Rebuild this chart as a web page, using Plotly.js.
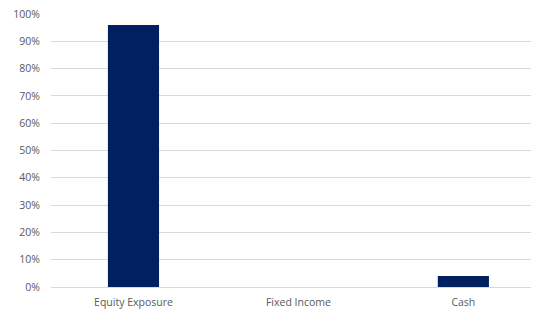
<!DOCTYPE html>
<html>
<head>
<meta charset="utf-8">
<script src="https://cdn.plot.ly/plotly-3.0.1.min.js"></script>
<style>html,body{margin:0;padding:0;background:#fff;}#chart{width:533px;height:313px;}</style>
</head>
<body>
<div id="chart"></div>
<script>
const categories = ["Equity Exposure", "Fixed Income", "Cash"];
const allocation = [0.96, 0.0, 0.04];
const yTickValues = [0, 0.1, 0.2, 0.3, 0.4, 0.5, 0.6, 0.7, 0.8, 0.9, 1.0];

const trace = {
  type: 'bar',
  x: categories,
  y: allocation,
  width: 0.31,
  marker: {color: '#002060'},
  hoverinfo: 'skip'
};

const layout = {
  width: 533,
  height: 313,
  margin: {l: 51, r: 2, t: 14, b: 26, pad: 0},
  paper_bgcolor: '#ffffff',
  plot_bgcolor: '#ffffff',
  showlegend: false,
  font: {family: 'Open Sans, Liberation Sans, Arial, sans-serif', size: 11, color: '#595959'},
  xaxis: {
    range: [-0.5, 2.41],
    showgrid: false,
    zeroline: false,
    showline: false,
    ticks: '',
    ticklabelstandoff: 7,
    tickfont: {family: 'Open Sans, Liberation Sans, sans-serif', size: 10.5, color: '#595959'}
  },
  yaxis: {
    range: [0, 1.0],
    tickvals: yTickValues,
    tickformat: '.0%',
    showgrid: true,
    gridcolor: '#d9d9d9',
    gridwidth: 1,
    zeroline: true,
    zerolinecolor: '#d9d9d9',
    zerolinewidth: 1,
    showline: false,
    ticks: '',
    ticklabelstandoff: 10,
    tickfont: {family: 'Open Sans, Liberation Sans, sans-serif', size: 10.5, color: '#595959'}
  }
};

Plotly.newPlot('chart', [trace], layout, {staticPlot: true, displayModeBar: false});
</script>
</body>
</html>
